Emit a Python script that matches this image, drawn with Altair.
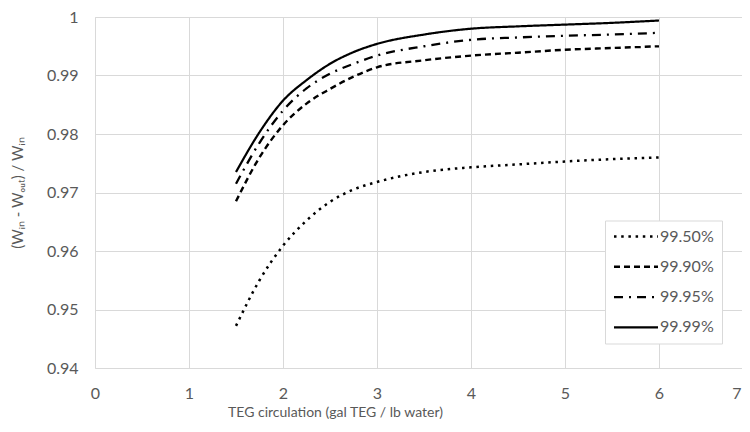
import altair as alt
import pandas as pd

# TEG circulation (gal TEG / lb water)
x_vals = [1.5, 1.75, 2.0, 2.25, 2.5, 2.75, 3.0, 3.5, 4.0, 4.5, 5.0, 5.5, 6.0]

# (Win - Wout) / Win for each lean-glycol purity
s_9950 = [0.9472, 0.9550, 0.9609, 0.9652, 0.9684, 0.9705, 0.9718, 0.9735, 0.9743, 0.9748, 0.9753, 0.9757, 0.9760]
s_9990 = [0.9685, 0.9760, 0.9815, 0.9852, 0.9877, 0.9898, 0.9914, 0.9926, 0.9934, 0.9939, 0.9944, 0.9947, 0.9950]
s_9995 = [0.9715, 0.9785, 0.9840, 0.9878, 0.9903, 0.9920, 0.9934, 0.9950, 0.9961, 0.9965, 0.9968, 0.9970, 0.9973]
s_9999 = [0.9735, 0.9803, 0.9857, 0.9892, 0.9920, 0.9940, 0.9954, 0.9970, 0.9980, 0.9984, 0.9987, 0.9990, 0.9994]

series_names = ["99.50%", "99.90%", "99.95%", "99.99%"]
series_values = [s_9950, s_9990, s_9995, s_9999]

x_ticks = [0, 1, 2, 3, 4, 5, 6, 7]
y_ticks = [0.94, 0.95, 0.96, 0.97, 0.98, 0.99, 1.0]

rows = []
for name, vals in zip(series_names, series_values):
    for xv, yv in zip(x_vals, vals):
        rows.append({"x": xv, "y": yv, "series": name})
df = pd.DataFrame(rows)

FONT = "Lato"
GRAY = "#595959"
GRID = "#d9d9d9"

legend_cfg = dict(
    title=None,
    orient="none",
    legendX=510,
    legendY=203.5,
    symbolType="M-44,0H44",
    symbolSize=1,
    symbolStrokeColor="black",
    symbolOffset=15,
    strokeColor=GRID,
    fillColor="white",
    padding=8,
    rowPadding=14.3,
    labelFont=FONT,
    labelFontSize=16,
    labelColor=GRAY,
    labelOffset=16,
)

chart = (
    alt.Chart(df)
    .mark_line(color="black", interpolate="monotone", strokeCap="butt")
    .encode(
        x=alt.X(
            "x:Q",
            scale=alt.Scale(domain=[0, 7], nice=False, zero=False),
            axis=alt.Axis(
                values=x_ticks,
                format="d",
                title="TEG circulation (gal TEG / lb water)",
                grid=True,
                gridColor=GRID,
                domain=False,
                ticks=False,
                tickSize=0,
                labelPadding=17,
                labelFont=FONT,
                labelFontSize=16,
                labelColor=GRAY,
                labelAlign={"condition": {"test": "datum.value == 7", "value": "right"}, "value": "center"},
                labelOffset={"condition": {"test": "datum.value == 7", "value": -12}, "value": 0},
                titleFont=FONT,
                titleFontSize=14,
                titleFontWeight="normal",
                titleColor=GRAY,
                titleX=240,
                titleY=44,
                titleBaseline="middle",
                titleAlign="center",
            ),
        ),
        y=alt.Y(
            "y:Q",
            scale=alt.Scale(domain=[0.94, 1.0], nice=False, zero=False),
            axis=alt.Axis(
                values=y_ticks,
                format=".2~f",
                title="(Wᵢₙ - Wₒᵤₜ) / Wᵢₙ",
                grid=True,
                gridColor=GRID,
                domain=False,
                ticks=False,
                tickSize=0,
                labelPadding=17,
                labelFont=FONT,
                labelFontSize=16,
                labelColor=GRAY,
                titleFont=FONT,
                titleFontSize=15,
                titleFontWeight="normal",
                titleColor=GRAY,
                titleAngle=-90,
                titleX=-78,
                titleY=175.5,
                titleBaseline="middle",
                titleAlign="center",
            ),
        ),
        strokeDash=alt.StrokeDash(
            "series:N",
            scale=alt.Scale(
                domain=series_names,
                range=[[2.5, 4.7], [6, 4], [9, 6, 2, 6], [1, 0]],
            ),
            legend=alt.Legend(**legend_cfg),
        ),
        strokeWidth=alt.StrokeWidth(
            "series:N",
            scale=alt.Scale(domain=series_names, range=[2.5, 2.2, 2.2, 3.2]),
            legend=alt.Legend(**legend_cfg),
        ),
    )
    .properties(
        width=658,
        height=351,
        autosize=alt.AutoSizeParams(type="none"),
        padding={"left": 87, "top": 9, "right": -11, "bottom": 54},
    )
    .configure_view(stroke=None)
    .configure(background="white")
)

chart.save("out.html", embed_options={"renderer": "svg", "actions": False})
